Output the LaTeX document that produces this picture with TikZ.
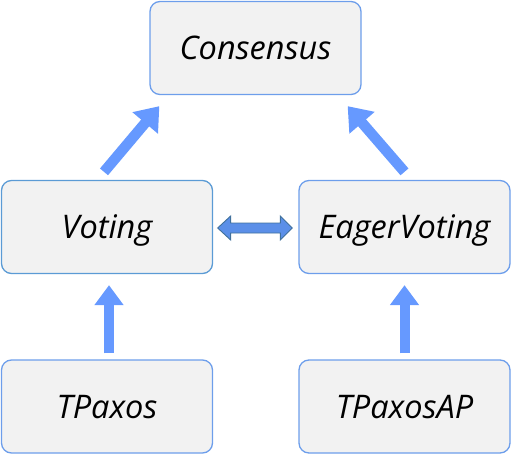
\documentclass[tikz,border=0pt]{standalone}
\usepackage{fontspec}
\setmainfont{Open Sans}
\usetikzlibrary{arrows.meta,calc}
\definecolor{boxfill}{HTML}{F2F2F2}
\definecolor{boxline}{HTML}{6D9EEB}
\definecolor{boxlineb}{HTML}{5B9BD5}
\definecolor{arrowblue}{HTML}{6699FF}
\definecolor{dblfill}{HTML}{5B8FE8}
\definecolor{dblline}{HTML}{41719C}
\begin{document}
\begin{tikzpicture}[x=1pt,y=-1pt,
  box/.style={draw=boxline, line width=1.3pt, fill=boxfill, rounded corners=10pt,
    minimum width=211pt, minimum height=93pt, inner sep=0pt,
    text height=23pt, text depth=0pt,
    font=\fontsize{32.5}{38}\selectfont\itshape},
  bigarrow/.style={draw=arrowblue, line width=10pt,
    -{Triangle[width=28pt,length=20pt]}},
  diagarrow/.style={draw=arrowblue, line width=10.5pt,
    -{Triangle[width=32pt,length=22pt]}},
  dblarrow/.style={fill=dblfill, draw=dblline, line width=0.9pt, line join=miter}]
\useasboundingbox (0,0) rectangle (517,455);
\node[box] (cons) at (255.5,48) {Consensus};
\node[box, draw=boxlineb] (voting) at (107,227) {Voting};
\node[box] (eager) at (404.5,227) {EagerVoting};
\node[box] (tpaxos) at (107,406.5) {TPaxos};
\node[box] (tpaxosap) at (404.5,406.5) {TPaxosAP};
% vertical arrows
\draw[bigarrow] ($(tpaxos.north)+(2,-6)$) -- ($(voting.south)+(2,11)$);
\draw[bigarrow] ($(tpaxosap.north)+(0,-6)$) -- ($(eager.south)+(0,11)$);
% diagonal arrows
\coordinate (lt) at ($(voting.north)+(-3,-8)$);
\coordinate (lh) at ($(cons.south west)+(10,11)$);
\draw[diagarrow] (lt) -- (lh);
\coordinate (rt) at ($(eager.north)+(0,-8)$);
\coordinate (rh) at ($(cons.south east)+(-14,11)$);
\draw[diagarrow] (rt) -- (rh);
% double arrow
\coordinate (dl) at ($(voting.east)+(4.5,1)$);
\coordinate (dr) at ($(eager.west)+(-6,1)$);
\draw[dblarrow] (dl) -- ++(13,-12) -- ++(0,7) -- ($(dr)+(-12,-5)$) -- ++(0,-7)
  -- (dr) -- ++(-12,12) -- ++(0,-7) -- ($(dl)+(13,5)$) -- ++(0,7) -- cycle;
\end{tikzpicture}
\end{document}
